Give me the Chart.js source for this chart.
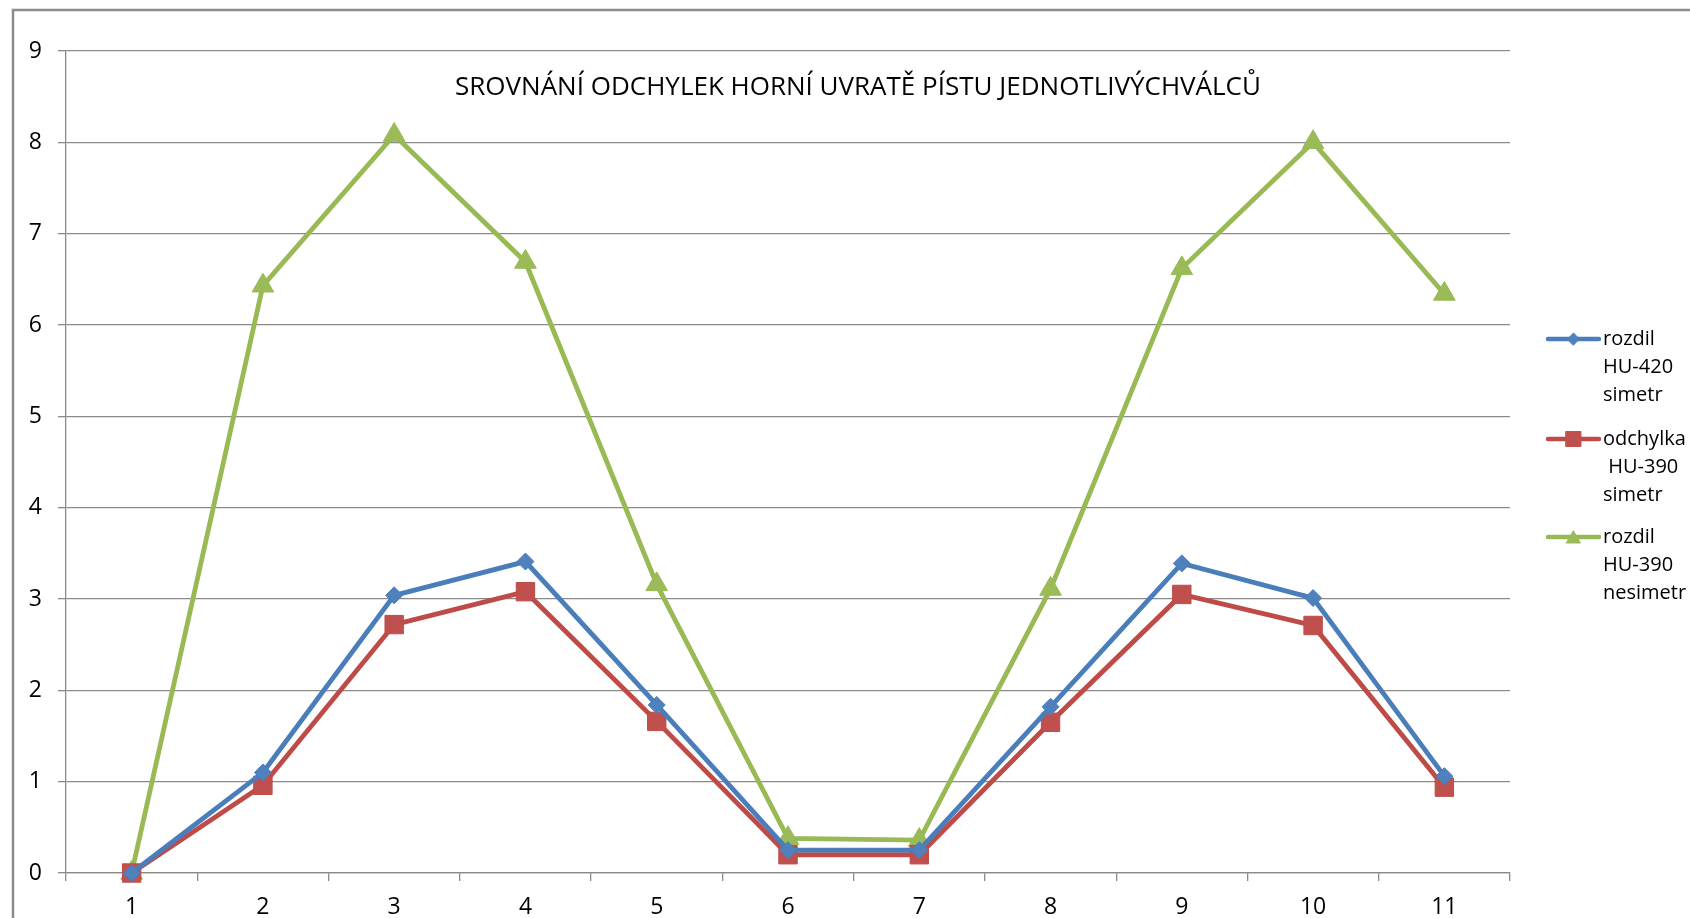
<!DOCTYPE html>
<html>
<head>
<meta charset="utf-8">
<title>Srovnání odchylek horní úvratě pístu</title>
<script src="https://cdn.jsdelivr.net/npm/chart.js@4/dist/chart.umd.min.js"></script>
<style>
  html, body { margin: 0; padding: 0; background: #ffffff; overflow: hidden; }
  #wrap { position: relative; width: 1690px; height: 918px; }
  canvas { display: block; }
</style>
</head>
<body>
<div id="wrap"><canvas id="chart" width="1690" height="918"></canvas></div>
<script>
// Cylinder numbers along the x axis
const cylinders = ['1', '2', '3', '4', '5', '6', '7', '8', '9', '10', '11'];

// Series values (deviation of piston top dead centre)
const rozdilHU420Simetr = [0, 1.10, 3.04, 3.41, 1.84, 0.25, 0.25, 1.82, 3.39, 3.01, 1.06];
const odchylkaHU390Simetr = [0, 0.96, 2.72, 3.08, 1.66, 0.20, 0.20, 1.65, 3.05, 2.71, 0.94];
const rozdilHU390Nesimetr = [0, 6.43, 8.08, 6.69, 3.16, 0.38, 0.36, 3.11, 6.62, 8.00, 6.34];

// Series names, as wrapped in the legend
const seriesNames = [
  ['rozdil', 'HU-420', 'simetr'],
  ['odchylka', ' HU-390', 'simetr'],
  ['rozdil', 'HU-390', 'nesimetr']
];

// Value axis range and step
const yMin = 0;
const yMax = 9;
const yStep = 1;

const chartTitle = 'SROVNÁNÍ ODCHYLEK HORNÍ UVRATĚ PÍSTU JEDNOTLIVÝCHVÁLCŮ';

const FONT = '"Open Sans", sans-serif';
const GRID = '#8a8a8a';

const origDrawPoint = Chart.helpers.drawPoint;

// Outer chart border, title and a wrapped legend on the right
const decorations = {
  id: 'decorations',
  beforeDraw(chart) {
    const ctx = chart.ctx;
    ctx.save();
    ctx.fillStyle = '#ffffff';
    ctx.fillRect(0, 0, chart.width, chart.height);
    ctx.strokeStyle = '#8c8c8c';
    ctx.lineWidth = 2.5;
    ctx.strokeRect(13, 10, chart.width + 50, chart.height + 50);
    ctx.restore();
  },
  afterDraw(chart) {
    const ctx = chart.ctx;
    ctx.save();
    // title
    ctx.fillStyle = '#000000';
    ctx.font = '26px ' + FONT;
    ctx.textAlign = 'center';
    ctx.textBaseline = 'middle';
    ctx.fillText(chartTitle, 858, 88);

    // legend: line sample with marker, then the wrapped series name
    const x0 = 1548, x1 = 1599, tx = 1603;
    const entryTop = [339, 439, 537];
    const lineGap = 28;
    chart.data.datasets.forEach((ds, i) => {
      const y = entryTop[i];
      ctx.strokeStyle = ds.borderColor;
      ctx.lineWidth = 4.5;
      ctx.lineCap = 'round';
      ctx.beginPath();
      ctx.moveTo(x0, y);
      ctx.lineTo(x1, y);
      ctx.stroke();
      ctx.fillStyle = ds.pointBackgroundColor;
      ctx.strokeStyle = ds.pointBorderColor;
      ctx.lineWidth = 1;
      origDrawPoint(ctx, {
        pointStyle: ds.pointStyle,
        rotation: 0,
        borderWidth: 1,
        radius: ds.legendRadius
      }, (x0 + x1) / 2, ds.pointStyle === 'triangle' ? y + 2 : y);
      ctx.fillStyle = '#000000';
      ctx.font = '20px ' + FONT;
      ctx.textAlign = 'left';
      ctx.textBaseline = 'middle';
      ds.label.forEach((line, k) => {
        ctx.fillText(line, tx, y + k * lineGap);
      });
    });
    ctx.restore();
  }
};

const datasets = [
  {
    label: seriesNames[0],
    data: rozdilHU420Simetr,
    borderColor: '#4A7EBB',
    pointBackgroundColor: '#4F81BD',
    pointBorderColor: '#4A7EBB',
    pointStyle: 'rectRot',
    pointRadius: 8.5,
    legendRadius: 6
  },
  {
    label: seriesNames[1],
    data: odchylkaHU390Simetr,
    borderColor: '#BE4B48',
    pointBackgroundColor: '#C0504D',
    pointBorderColor: '#BE4B48',
    pointStyle: 'rect',
    pointRadius: 13,
    legendRadius: 10.5
  },
  {
    label: seriesNames[2],
    data: rozdilHU390Nesimetr,
    borderColor: '#98B954',
    pointBackgroundColor: '#9BBB59',
    pointBorderColor: '#98B954',
    pointStyle: 'triangle',
    pointRadius: 12.5,
    legendRadius: 8
  }
].map(d => Object.assign({
  borderWidth: 4.8,
  pointBorderWidth: 1,
  pointHoverRadius: d.pointRadius,
  tension: 0,
  fill: false,
  clip: false
}, d));

new Chart(document.getElementById('chart'), {
  type: 'line',
  data: { labels: cylinders, datasets },
  plugins: [decorations],
  options: {
    responsive: false,
    devicePixelRatio: 1,
    animation: false,
    layout: { padding: { left: 0, top: 51, right: 180, bottom: 0 } },
    plugins: {
      legend: { display: false },
      title: { display: false },
      tooltip: { enabled: false }
    },
    scales: {
      x: {
        type: 'category',
        offset: true,
        afterFit(scale) { scale.height = 45; },
        grid: {
          offset: true,
          drawOnChartArea: false,
          drawTicks: true,
          tickLength: 8,
          color: GRID,
          lineWidth: 1.3
        },
        border: { display: true, color: GRID, width: 1.3 },
        ticks: {
          color: '#000000',
          padding: 13,
          maxRotation: 0,
          font: { family: FONT, size: 23 }
        }
      },
      y: {
        min: yMin,
        max: yMax,
        afterFit(scale) { scale.width = 66; },
        grid: {
          color: GRID,
          lineWidth: 1.3,
          drawTicks: true,
          tickLength: 8
        },
        border: { display: true, color: GRID, width: 1.3 },
        ticks: {
          stepSize: yStep,
          color: '#000000',
          padding: 16,
          font: { family: FONT, size: 23 }
        }
      }
    }
  }
});
</script>
</body>
</html>
